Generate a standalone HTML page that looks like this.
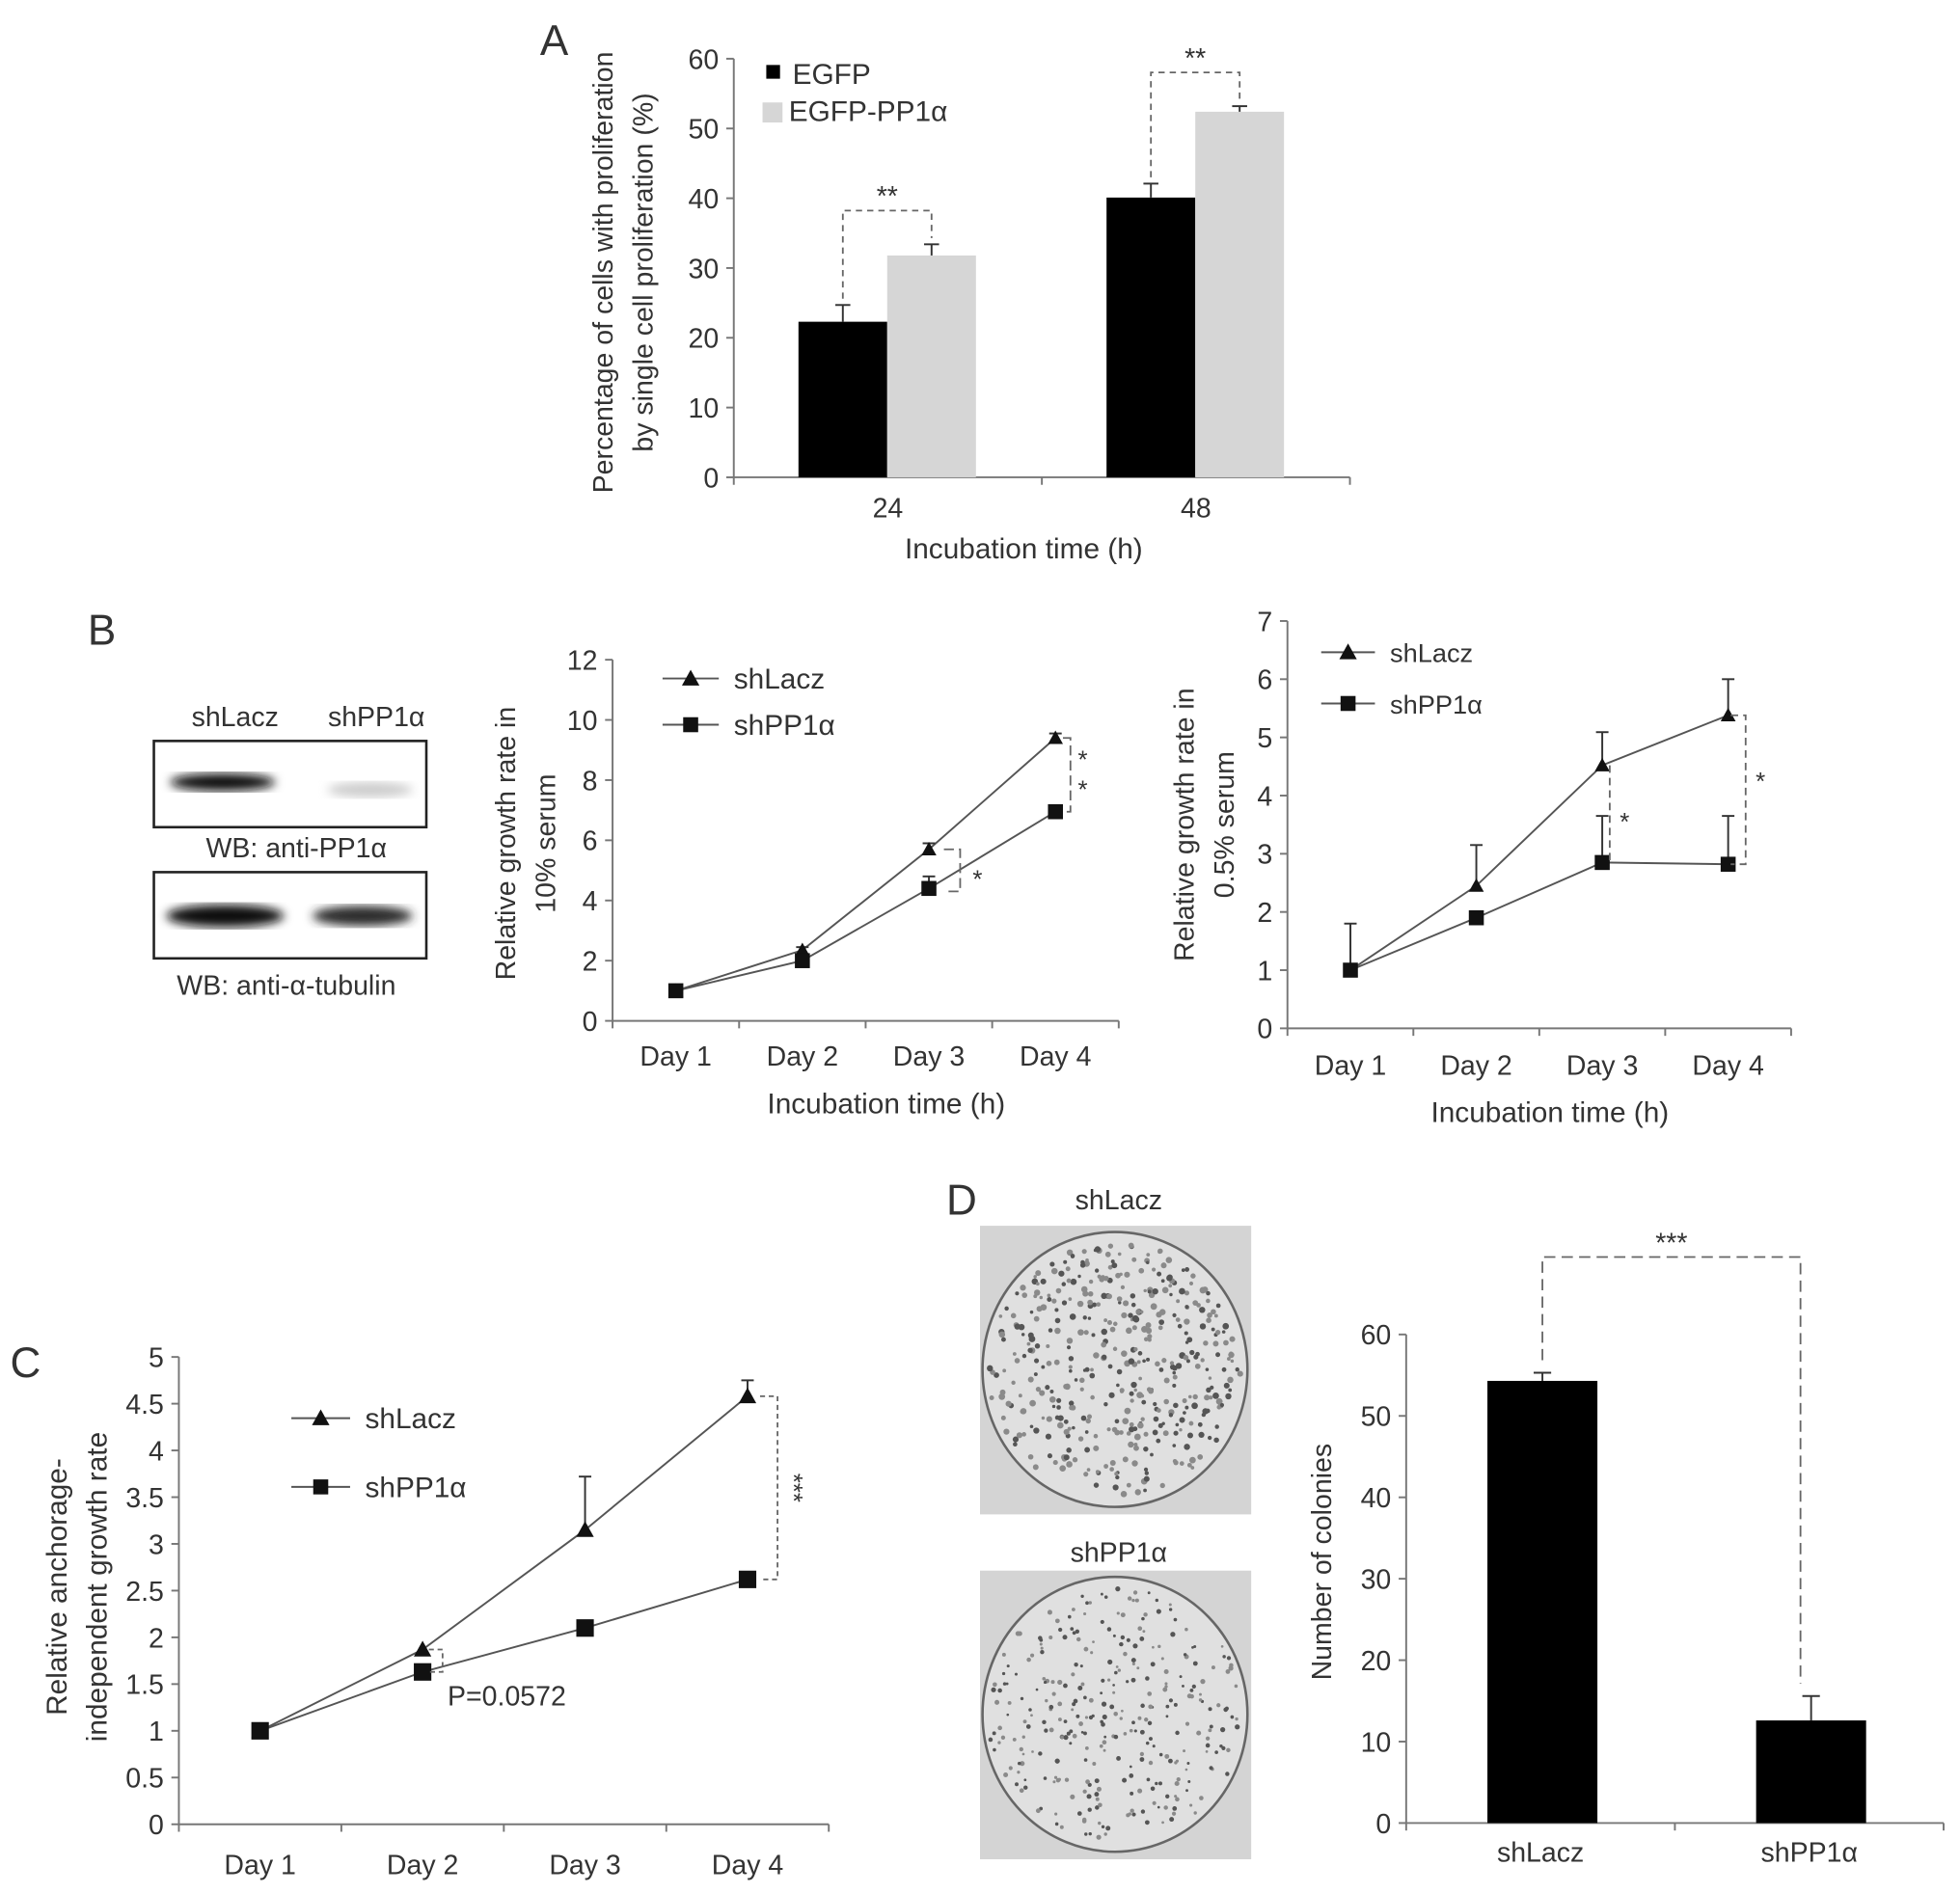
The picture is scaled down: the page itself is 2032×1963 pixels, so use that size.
<!DOCTYPE html>
<html><head><meta charset="utf-8"><style>
html,body{margin:0;padding:0;background:#fff;}
svg{display:block;}
text{font-family:"Liberation Sans",sans-serif;fill:#333;}
</style></head><body>
<svg id="fig" width="2032" height="1963" viewBox="0 0 1568 1515" xmlns="http://www.w3.org/2000/svg">
<rect width="1568" height="1515" fill="#fff"/>
<g id="gA"></g>
<g id="gWB"></g>
<g id="gB1"></g>
<g id="gB2"></g>
<g id="gC"></g>
<g id="gPlates"></g>
<g id="gD"></g>
</svg>
<script>
// ---- Panel A data ----
const aCategories = ["24", "48"];
const aEGFP = [22.3, 40.1];
const aEGFPerr = [2.4, 2.0];
const aPP1 = [31.8, 52.4];
const aPP1err = [1.6, 0.8];
const aTicks = [0, 10, 20, 30, 40, 50, 60];
// ---- Panel B (10% serum) ----
const dayLabels = ["Day 1", "Day 2", "Day 3", "Day 4"];
const b1Lacz = [1, 2.35, 5.7, 9.4];
const b1LaczErr = [0, 0.1, 0.2, 0.15];
const b1PP1 = [1, 2.0, 4.4, 6.95];
const b1PP1Err = [0, 0.1, 0.4, 0.1];
const b1Ticks = [0, 2, 4, 6, 8, 10, 12];
// ---- Panel B (0.5% serum) ----
const b2Lacz = [1, 2.45, 4.52, 5.38];
const b2LaczErr = [0.8, 0.7, 0.57, 0.62];
const b2PP1 = [1, 1.9, 2.85, 2.82];
const b2PP1Err = [0, 0, 0.8, 0.83];
const b2Ticks = [0, 1, 2, 3, 4, 5, 6, 7];
// ---- Panel C ----
const cLacz = [1, 1.87, 3.15, 4.58];
const cLaczErr = [0, 0, 0.57, 0.17];
const cPP1 = [1, 1.63, 2.1, 2.62];
const cPP1Err = [0, 0, 0, 0];
const cTicks = [0, 0.5, 1, 1.5, 2, 2.5, 3, 3.5, 4, 4.5, 5];
const cTickLabels = ["0","0.5","1","1.5","2","2.5","3","3.5","4","4.5","5"];
// ---- Panel D ----
const dCategories = ["shLacz", "shPP1α"];
const dValues = [54.3, 12.6];
const dErr = [1.0, 3.0];
const dTicks = [0, 10, 20, 30, 40, 50, 60];

const NS = "http://www.w3.org/2000/svg";
function el(parent, tag, attrs, txt){
  const e = document.createElementNS(NS, tag);
  for (const k in attrs) e.setAttribute(k, attrs[k]);
  if (txt !== undefined) e.textContent = txt;
  parent.appendChild(e);
  return e;
}
function lin(d0, d1, r0, r1){ return v => r0 + (v - d0) * (r1 - r0) / (d1 - d0); }

function yAxis(g, x, y0, y1, ticks, sc, labels){
  const ax = el(g, "line", {x1:x, y1:y0, x2:x, y2:y1, stroke:"#777", "stroke-width":1.5});
  
  
  ticks.forEach((t, i) => {
    el(g, "line", {x1:x-6, y1:sc(t), x2:x, y2:sc(t), stroke:"#777", "stroke-width":1.5});
    const tl = el(g, "text", {x:x-12, y:sc(t)+8, "text-anchor":"end", "font-size":22}, labels ? labels[i] : String(t));
    
    
  });
}
function xAxis(g, x0, x1, y, n, labels, ly){
  const ax = el(g, "line", {x1:x0, y1:y, x2:x1, y2:y, stroke:"#777", "stroke-width":1.5});
  
  
  const w = (x1 - x0) / n;
  for (let i = 0; i <= n; i++) el(g, "line", {x1:x0+i*w, y1:y, x2:x0+i*w, y2:y+6, stroke:"#777", "stroke-width":1.5});
  labels.forEach((l, i) => {
    const t = el(g, "text", {x:x0+(i+0.5)*w, y:ly, "text-anchor":"middle", "font-size":22}, l);
    
    
  });
  return i => x0 + (i + 0.5) * w;
}
function vTitle(g, lines, xs, cy, fs){
  lines.forEach((l, i) => {
    const t = el(g, "text", {x:xs[i], y:cy, transform:`rotate(-90 ${xs[i]} ${cy})`, "text-anchor":"middle", "font-size":fs||22}, l);
    
    
  });
}
function label(g, x, y, s, fs, name, anchor){
  const t = el(g, "text", {x:x, y:y, "font-size":fs, "text-anchor":anchor||"start"}, s);
  
  
  return t;
}
function errBar(g, x, y, ytop, cap){
  el(g, "line", {x1:x, y1:y, x2:x, y2:ytop, stroke:"#333", "stroke-width":1.5});
  el(g, "line", {x1:x-cap, y1:ytop, x2:x+cap, y2:ytop, stroke:"#333", "stroke-width":1.5});
}
function tri(g, x, y, s){ return el(g, "polygon", {points:`${x},${y-s} ${x-s},${y+s*0.8} ${x+s},${y+s*0.8}`, fill:"#111"}); }
function sq(g, x, y, s){ return el(g, "rect", {x:x-s, y:y-s, width:2*s, height:2*s, fill:"#111"}); }
function bracket(g, pts, dash){
  return el(g, "polyline", {points:pts.map(p=>p.join(",")).join(" "), fill:"none", stroke:"#666", "stroke-width":1.4, "stroke-dasharray":dash||"5,4"});
}

// ===== Panel A =====
(function(){
  const g = document.getElementById("gA");
  const y = lin(0, 60, 382, 47);
  label(g, 432, 44, "A", 34, "panel-label-a");
  yAxis(g, 587, 382, 47, aTicks, y);
  const cx = xAxis(g, 587, 1080, 382, 2, aCategories, 414);
  const bw = 71;
  aCategories.forEach((c, i) => {
    const xc = cx(i) - 0.5;
    const b1 = el(g, "rect", {x:xc-bw, y:y(aEGFP[i]), width:bw, height:y(0)-y(aEGFP[i]), fill:"#000"});
    
    
    errBar(g, xc-bw/2, y(aEGFP[i]), y(aEGFP[i]+aEGFPerr[i]), 6);
    const b2 = el(g, "rect", {x:xc, y:y(aPP1[i]), width:bw, height:y(0)-y(aPP1[i]), fill:"#d6d6d6"});
    
    
    errBar(g, xc+bw/2, y(aPP1[i]), y(aPP1[i]+aPP1err[i]), 6);
    const top = y(aPP1[i]+aPP1err[i]) - 27;
    const br = bracket(g, [[xc-bw/2, y(aEGFP[i]+aEGFPerr[i])-5],[xc-bw/2, top],[xc+bw/2, top],[xc+bw/2, y(aPP1[i]+aPP1err[i])-5]]);
    
    
    const st = label(g, xc, top-4, "**", 22, "significance-stars", "middle");
    st.setAttribute("fill", "#888");
  });
  vTitle(g, ["Percentage of cells with proliferation", "by single cell proliferation (%)"], [490, 522], 218, 22);
  label(g, 819, 447, "Incubation time (h)", 23, "x-axis-title", "middle");
  const l1 = el(g, "rect", {x:613, y:52, width:11, height:11, fill:"#000"});
   
  label(g, 634, 67, "EGFP", 23, "legend-entry-egfp");
  const l2 = el(g, "rect", {x:610, y:82, width:16, height:16, fill:"#d6d6d6"});
   
  label(g, 631, 97, "EGFP-PP1α", 23, "legend-entry-egfp-pp1a");
})();

// ===== Western blot =====
(function(){
  const g = document.getElementById("gWB");
  label(g, 70, 516, "B", 34, "panel-label-b");
  label(g, 188, 581, "shLacz", 22, "lane-label-shlacz", "middle");
  label(g, 301, 581, "shPP1α", 22, "lane-label-shpp1a", "middle");
  const defs = el(g, "defs", {});
  const f = el(defs, "filter", {id:"blur"}); el(f, "feGaussianBlur", {stdDeviation:4});
  const b1 = el(g, "rect", {x:123, y:593, width:218, height:69, fill:"#fff", stroke:"#222", "stroke-width":2});
   
  el(g, "ellipse", {cx:178, cy:626, rx:42, ry:7, fill:"#111", filter:"url(#blur)"});
  el(g, "ellipse", {cx:296, cy:632, rx:34, ry:6, fill:"#ccc", filter:"url(#blur)"});
  label(g, 237, 686, "WB: anti-PP1α", 22, "blot-caption-pp1a", "middle");
  const b2 = el(g, "rect", {x:123, y:698, width:218, height:69, fill:"#fff", stroke:"#222", "stroke-width":2});
   
  el(g, "ellipse", {cx:180, cy:733, rx:47, ry:9, fill:"#111", filter:"url(#blur)"});
  el(g, "ellipse", {cx:290, cy:733, rx:40, ry:8, fill:"#2a2a2a", filter:"url(#blur)"});
  label(g, 229, 796, "WB: anti-α-tubulin", 22, "blot-caption-tubulin", "middle");
})();

function lineChart(g, cfg){
  const y = lin(cfg.tmin, cfg.tmax, cfg.y0, cfg.y1);
  yAxis(g, cfg.x0, cfg.y0, cfg.y1, cfg.ticks, y, cfg.tickLabels);
  const cx = xAxis(g, cfg.x0, cfg.x1, cfg.y0, 4, dayLabels, cfg.ly);
  [[cfg.lacz, cfg.laczErr, "shlacz", tri], [cfg.pp1, cfg.pp1Err, "shpp1a", sq]].forEach(([vals, errs, nm, mk]) => {
    const pl = el(g, "polyline", {points:vals.map((v,i)=>cx(i)+","+y(v)).join(" "), fill:"none", stroke:"#555", "stroke-width":1.5});
    
    
    vals.forEach((v, i) => {
      if (errs[i] > 0) errBar(g, cx(i), y(v), y(v+errs[i]), 5);
      const m = mk(g, cx(i), y(v), cfg.ms);
      
      
    });
  });
  return {y, cx};
}
function legend(g, x, y1, y2, w, fs){
  el(g, "line", {x1:x, y1:y1, x2:x+w, y2:y1, stroke:"#555", "stroke-width":1.5});
  tri(g, x+w/2, y1, 7);
  label(g, x+w+12, y1+8, "shLacz", fs, "legend-entry-shlacz");
  el(g, "line", {x1:x, y1:y2, x2:x+w, y2:y2, stroke:"#555", "stroke-width":1.5});
  sq(g, x+w/2, y2, 6);
  label(g, x+w+12, y2+8, "shPP1α", fs, "legend-entry-shpp1a");
}

// ===== Panel B1 =====
(function(){
  const g = document.getElementById("gB1");
  const r = lineChart(g, {x0:490, x1:895, y0:817, y1:528, tmin:0, tmax:12, ticks:b1Ticks, lacz:b1Lacz, laczErr:b1LaczErr, pp1:b1PP1, pp1Err:b1PP1Err, ly:853, ms:6});
  vTitle(g, ["Relative growth rate in", "10% serum"], [412, 444], 675, 22);
  label(g, 709, 891, "Incubation time (h)", 23, "x-axis-title", "middle");
  legend(g, 530, 543, 580, 45, 23);
  const x3 = r.cx(2), x4 = r.cx(3);
  bracket(g, [[x3+12, r.y(b1Lacz[2])],[x3+25, r.y(b1Lacz[2])],[x3+25, r.y(b1PP1[2]+b1PP1Err[2])+12],[x3+12, r.y(b1PP1[2]+b1PP1Err[2])+12]], "8,4");
  label(g, x3+35, r.y((b1Lacz[2]+b1PP1[2])/2)+15, "*", 20, "significance-star").setAttribute("fill","#777");
  bracket(g, [[x4+6, r.y(b1Lacz[3])],[x4+12, r.y(b1Lacz[3])],[x4+12, r.y(b1PP1[3])],[x4+6, r.y(b1PP1[3])]], "8,4");
  label(g, x4+18, r.y(b1Lacz[3])+24, "*", 20, "significance-star").setAttribute("fill","#777");
  label(g, x4+18, r.y(b1Lacz[3])+48, "*", 20, "significance-star").setAttribute("fill","#777");
})();

// ===== Panel B2 =====
(function(){
  const g = document.getElementById("gB2");
  const r = lineChart(g, {x0:1030, x1:1433, y0:823, y1:497, tmin:0, tmax:7, ticks:b2Ticks, lacz:b2Lacz, laczErr:b2LaczErr, pp1:b2PP1, pp1Err:b2PP1Err, ly:860, ms:6});
  vTitle(g, ["Relative growth rate in", "0.5% serum"], [955, 987], 660, 22);
  label(g, 1240, 898, "Incubation time (h)", 23, "x-axis-title", "middle");
  legend(g, 1057, 522, 563, 43, 21);
  const x3 = r.cx(2), x4 = r.cx(3);
  bracket(g, [[x3+6, r.y(b2Lacz[2])],[x3+6, r.y(b2PP1[2])]], "6,4");
  label(g, x3+14, r.y(3.4), "*", 20, "significance-star").setAttribute("fill","#777");
  bracket(g, [[x4+2, r.y(b2Lacz[3])],[x4+14, r.y(b2Lacz[3])],[x4+14, r.y(b2PP1[3])],[x4+2, r.y(b2PP1[3])]], "6,4");
  label(g, x4+22, r.y(4.1), "*", 20, "significance-star").setAttribute("fill","#777");
})();

// ===== Panel C =====
(function(){
  const g = document.getElementById("gC");
  label(g, 8, 1102, "C", 34, "panel-label-c");
  const r = lineChart(g, {x0:143, x1:663, y0:1460, y1:1086, tmin:0, tmax:5, ticks:cTicks, tickLabels:cTickLabels, lacz:cLacz, laczErr:cLaczErr, pp1:cPP1, pp1Err:cPP1Err, ly:1500, ms:7});
  vTitle(g, ["Relative anchorage-", "independent growth rate"], [53, 85], 1270, 23);
  legend(g, 233, 1135, 1190, 47, 23);
  const x2 = r.cx(1), x4 = r.cx(3);
  bracket(g, [[x2+5, r.y(cLacz[1])],[x2+16, r.y(cLacz[1])],[x2+16, r.y(cPP1[1])],[x2+5, r.y(cPP1[1])]], "4,3");
  label(g, 358, 1365, "P=0.0572", 22, "p-value-label");
  bracket(g, [[x4+10, r.y(cLacz[3])],[x4+24, r.y(cLacz[3])],[x4+24, r.y(cPP1[3])],[x4+10, r.y(cPP1[3])]], "4,3");
  const st = el(g, "text", {x:x4+30, y:r.y(3.6), "font-size":20, fill:"#777", transform:`rotate(90 ${x4+30} ${r.y(3.6)})`, "text-anchor":"middle"}, "***");
  
  
})();

// ===== Plates =====
(function(){
  const g = document.getElementById("gPlates");
  label(g, 757, 972, "D", 34, "panel-label-d");
  label(g, 895, 968, "shLacz", 22, "plate-label-shlacz", "middle");
  label(g, 895, 1250, "shPP1α", 22, "plate-label-shpp1a", "middle");
  let seed = 7;
  function rnd(){ seed = (seed * 16807) % 2147483647; return seed / 2147483647; }
  [[981, 450, 2.2, "plate-shlacz"], [1257, 320, 1.7, "plate-shpp1a"]].forEach(([top, n, rad, nm]) => {
    const bg = el(g, "rect", {x:784, y:top, width:217, height:231, fill:"#d4d4d4"});
    
    
    const cx = 892, cy = top+115, R = 106;
    el(g, "ellipse", {cx:cx, cy:cy, rx:R, ry:R+4, fill:"#e0e0e0", stroke:"#666", "stroke-width":2});
    for (let i = 0; i < n; i++){
      const a = rnd()*Math.PI*2, d = Math.sqrt(rnd())*(R-4);
      el(g, "circle", {cx:cx+Math.cos(a)*d, cy:cy+Math.sin(a)*d, r:rad*(0.6+rnd()*0.6), fill:rnd()<0.5?"#555":"#8a8a8a"});
    }
  });
})();

// ===== Panel D bar =====
(function(){
  const g = document.getElementById("gD");
  const y = lin(0, 60, 1459, 1068);
  yAxis(g, 1125, 1459, 1068, dTicks, y);
  const cx = xAxis(g, 1125, 1555, 1459, 2, dCategories, 1490);
  const bw = 88;
  dValues.forEach((v, i) => {
    const xc = cx(i) + 1.5;
    const b = el(g, "rect", {x:xc-bw/2, y:y(v), width:bw, height:y(0)-y(v), fill:"#000"});
    
    
    errBar(g, xc, y(v), y(v+dErr[i]), 7);
  });
  const xa = cx(0) + 1.5, xb = cx(1) - 7;
  const br = bracket(g, [[xa, y(dValues[0]+dErr[0])-10],[xa, 1006],[xb, 1006],[xb, y(dValues[1]+dErr[1])-10]], "9,5");
  
  
  label(g, (xa+xb)/2, 1002, "***", 22, "significance-stars", "middle").setAttribute("fill", "#888");
  vTitle(g, ["Number of colonies"], [1065], 1250, 22);
})();
</script>
</body></html>
